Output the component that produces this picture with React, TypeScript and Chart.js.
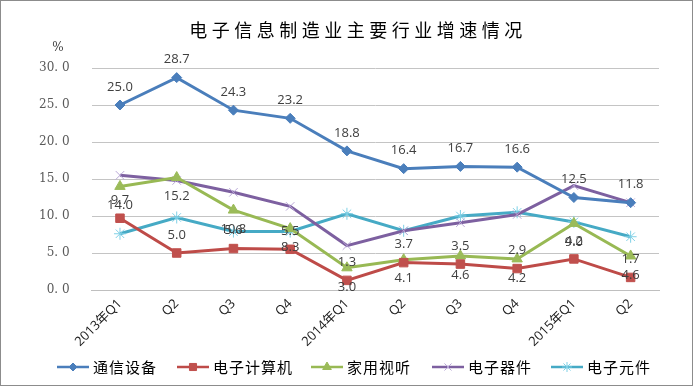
import React, { useEffect, useRef } from 'react';
import { Chart, registerables } from 'chart.js';
import { drawPoint } from 'chart.js/helpers';
Chart.register(...registerables);

const title = '电子信息制造业主要行业增速情况';
const unitLabel = '%';
const categories = ['2013年Q1', 'Q2', 'Q3', 'Q4', '2014年Q1', 'Q2', 'Q3', 'Q4', '2015年Q1', 'Q2'];
const seriesNames = ['通信设备', '电子计算机', '家用视听', '电子器件', '电子元件'];
const telecom = [25.0, 28.7, 24.3, 23.2, 18.8, 16.4, 16.7, 16.6, 12.5, 11.8];
const computer = [9.7, 5.0, 5.6, 5.5, 1.3, 3.7, 3.5, 2.9, 4.2, 1.7];
const homeAV = [14.0, 15.2, 10.8, 8.3, 3.0, 4.1, 4.6, 4.2, 9.0, 4.6];
const devices = [15.5, 14.8, 13.2, 11.3, 6.0, 8.0, 9.1, 10.2, 14.1, 11.8];
const components = [7.6, 9.8, 7.9, 7.9, 10.3, 8.0, 10.0, 10.5, 9.2, 7.2];
const yMin = 0;
const yMax = 30;
const yStep = 5;

const colors = ['#4A7EBB', '#BE4B48', '#98B954', '#7D60A0', '#46AAC5'];
const pointColors = ['#4A7EBB', '#C0504D', '#9BBB59', '#B9A7D6', '#7FD0E6'];
const pointStyles = ['rectRot', 'rect', 'triangle', 'crossRot', 'star'];
const pointRadii = [5, 6, 6, 6, 6];
const labelOffsets: (number | null)[] = [-18, -18, 19, null, null];
const legendX = [57, 177, 311, 432, 551];

const overlayPlugin = {
  id: 'overlay',
  afterDatasetsDraw(chart: any) {
    const ctx = chart.ctx;
    ctx.save();
    // data labels
    ctx.font = "13px 'Open Sans', 'Noto Sans', sans-serif";
    ctx.fillStyle = '#404040';
    ctx.textAlign = 'center';
    ctx.textBaseline = 'middle';
    chart.data.datasets.forEach((ds: any, i: number) => {
      const off = labelOffsets[i];
      if (off === null) return;
      const meta = chart.getDatasetMeta(i);
      meta.data.forEach((pt: any, j: number) => {
        ctx.fillText(ds.data[j].toFixed(1), pt.x, pt.y + off);
      });
    });
    ctx.restore();
  },
  afterDraw(chart: any) {
    const ctx = chart.ctx;
    ctx.save();
    // border
    ctx.strokeStyle = '#8c8c8c';
    ctx.lineWidth = 1;
    ctx.strokeRect(0.5, 0.5, 692, 385);
    // title
    ctx.fillStyle = '#000';
    ctx.font = "18px 'Noto Sans CJK SC', sans-serif";
    ctx.textAlign = 'center';
    ctx.textBaseline = 'middle';
    try { (ctx as any).letterSpacing = '4.5px'; } catch (e) {}
    ctx.fillText(title, 358, 30);
    try { (ctx as any).letterSpacing = '0px'; } catch (e) {}
    // unit
    ctx.font = "12px 'DejaVu Serif', serif";
    ctx.fillStyle = '#404040';
    ctx.fillText(unitLabel, 58, 48);
    // legend
    const ly = 367;
    chart.data.datasets.forEach((ds: any, i: number) => {
      const x0 = legendX[i];
      ctx.strokeStyle = colors[i];
      ctx.lineWidth = 2.5;
      ctx.beginPath();
      ctx.moveTo(x0, ly);
      ctx.lineTo(x0 + 32, ly);
      ctx.stroke();
      ctx.fillStyle = pointColors[i];
      ctx.strokeStyle = pointColors[i];
      ctx.lineWidth = i >= 3 ? 1 : 1;
      drawPoint(ctx, { pointStyle: pointStyles[i], radius: pointRadii[i] - 1, borderWidth: 1, rotation: 0 }, x0 + 16, ly);
      ctx.fillStyle = '#000';
      ctx.font = "15px 'Noto Sans CJK SC', sans-serif";
      ctx.textAlign = 'left';
      try { (ctx as any).letterSpacing = '1px'; } catch (e) {}
      ctx.fillText(seriesNames[i], x0 + 36, ly);
      try { (ctx as any).letterSpacing = '0px'; } catch (e) {}
    });
    ctx.restore();
  },
};

export default function App() {
  const ref = useRef<HTMLCanvasElement>(null);
  useEffect(() => {
    document.body.style.margin = '0';
    const all = [telecom, computer, homeAV, devices, components];
    const chart = new Chart(ref.current!, {
      type: 'line',
      data: {
        labels: categories,
        datasets: all.map((d, i) => ({
          label: seriesNames[i],
          data: d,
          borderColor: colors[i],
          backgroundColor: pointColors[i],
          pointBackgroundColor: pointColors[i],
          pointBorderColor: pointColors[i],
          pointStyle: pointStyles[i] as any,
          pointRadius: pointRadii[i],
          pointBorderWidth: 1,
          borderWidth: 3,
          tension: 0,
          fill: false,
        })),
      },
      options: {
        animation: false,
        responsive: false,
        layout: { padding: { left: 0, right: 40, top: 68, bottom: 0 } },
        plugins: { legend: { display: false }, title: { display: false }, tooltip: { enabled: false } },
        scales: {
          x: {
            offset: true,
            grid: { display: false, drawTicks: false },
            border: { display: true, color: '#bfbfbf', width: 1 },
            ticks: {
              minRotation: 45,
              maxRotation: 45,
              autoSkip: false,
              padding: 6,
              color: '#1a1a1a',
              font: { family: "'Open Sans', 'Noto Sans CJK SC', sans-serif", size: 13 },
            },
            afterFit: (s: any) => { s.height = 97; },
          },
          y: {
            min: yMin,
            max: yMax,
            grid: { color: '#c4c4c4', lineWidth: 1, drawTicks: false },
            border: { display: false },
            ticks: {
              stepSize: yStep,
              padding: 22,
              color: '#595959',
              font: { family: "'DejaVu Serif', serif", size: 12 },
              callback: (v: any) => Number(v).toFixed(1).replace('.', '. '),
            },
            afterFit: (s: any) => { s.width = 91.6; },
          },
        },
      },
      plugins: [overlayPlugin],
    });
    return () => chart.destroy();
  }, []);
  return (
    <div style={{ width: 699, height: 387, background: '#fff' }}>
      <canvas ref={ref} width={699} height={387} style={{ display: 'block' }} />
    </div>
  );
}
